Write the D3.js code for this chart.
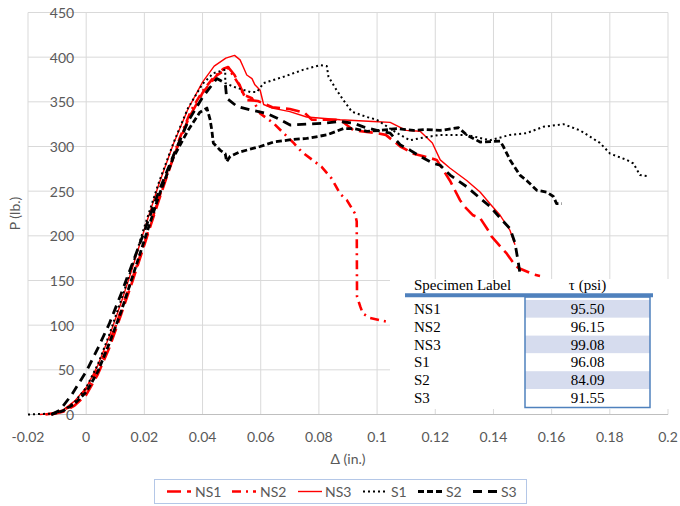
<!DOCTYPE html>
<html>
<head>
<meta charset="utf-8">
<script src="https://cdn.jsdelivr.net/npm/d3@7"></script>
<style>
body { margin: 0; background: #fff; }
text { font-family: Lato, "Open Sans", sans-serif; }
</style>
</head>
<body>
<svg id="chart" width="680" height="506"></svg>
<script>
// axis ticks
const xTicks = [-0.02, 0, 0.02, 0.04, 0.06, 0.08, 0.1, 0.12, 0.14, 0.16, 0.18, 0.2];
const yTicks = [0, 50, 100, 150, 200, 250, 300, 350, 400, 450];

// load-displacement curves, [delta (in.), P (lb.)]
const ns1 = [[-0.012,0],[-0.008,3],[-0.004,10],[0,22],[0.004,45],[0.008,75],[0.012,112],[0.016,150],[0.02,190],[0.025,240],[0.03,288],[0.035,330],[0.04,360],[0.045,380],[0.049,388],[0.051,380],[0.053,367],[0.055,352],[0.059,351],[0.064,344],[0.07,342],[0.075,338],[0.0776,330],[0.0873,330],[0.0919,318],[0.1,315],[0.103,313],[0.108,300],[0.1125,292],[0.116,289],[0.1205,285],[0.125,262],[0.1285,240],[0.1297,234],[0.133,223],[0.1354,220],[0.1388,203],[0.1394,199],[0.1429,186],[0.1446,180],[0.1474,167],[0.1486,164],[0.1537,157],[0.156,155]];
const ns2 = [[-0.014,0],[-0.01,2],[-0.006,8],[-0.002,20],[0.002,38],[0.006,65],[0.01,98],[0.014,135],[0.018,172],[0.022,212],[0.027,262],[0.032,308],[0.036,340],[0.04,362],[0.044,378],[0.0472,387],[0.0488,389],[0.05,382],[0.053,367],[0.054,358],[0.057,354],[0.0598,337],[0.0644,326],[0.0713,304],[0.0741,294],[0.081,277],[0.0844,264],[0.0873,247],[0.0896,240],[0.0924,225],[0.093,216],[0.0931,132],[0.0942,121],[0.0951,113],[0.0976,108],[0.1031,104]];
const ns3 = [[-0.016,0],[-0.012,1],[-0.008,5],[-0.004,15],[0,30],[0.004,55],[0.008,88],[0.012,125],[0.016,165],[0.02,207],[0.025,258],[0.03,303],[0.035,342],[0.04,372],[0.044,390],[0.048,399],[0.051,402],[0.0529,397],[0.054,389],[0.0552,380],[0.057,376],[0.058,369],[0.0598,363],[0.061,347],[0.064,343],[0.07,339],[0.0758,333],[0.0873,330],[0.0986,328],[0.1045,327],[0.11,318],[0.1148,317],[0.119,304],[0.1217,285],[0.125,276],[0.1308,262],[0.1354,249],[0.1388,236],[0.1423,223],[0.1457,206],[0.1474,190]];
const s1 = [[-0.02,0],[-0.012,1],[-0.008,4],[-0.004,14],[0,30],[0.004,56],[0.008,90],[0.012,128],[0.016,168],[0.02,210],[0.025,260],[0.03,304],[0.035,343],[0.04,370],[0.0437,382],[0.0478,386],[0.0478,371],[0.0506,367],[0.0564,361],[0.0587,361],[0.061,371],[0.0678,378],[0.0747,386],[0.0804,391],[0.0827,390],[0.0833,378],[0.0861,363],[0.0884,352],[0.0913,339],[0.0965,333],[0.0999,330],[0.1045,320],[0.1079,313],[0.1113,307],[0.1159,310],[0.1216,313],[0.1308,313],[0.1388,307],[0.1457,313],[0.1514,315],[0.1571,322],[0.164,325],[0.1698,318],[0.1732,311],[0.1766,304],[0.1801,292],[0.1858,285],[0.1881,281],[0.1904,268],[0.1927,267]];
const s2 = [[-0.012,0],[-0.008,4],[-0.004,12],[0,25],[0.004,48],[0.008,80],[0.012,115],[0.016,155],[0.02,195],[0.025,245],[0.03,288],[0.035,318],[0.039,338],[0.0415,343],[0.0426,330],[0.0432,318],[0.0437,304],[0.046,296],[0.0478,292],[0.0483,283],[0.0495,289],[0.0529,294],[0.0598,300],[0.0644,305],[0.0713,308],[0.0758,309],[0.0827,313],[0.0884,320],[0.0919,320],[0.0965,317],[0.101,318],[0.1068,320],[0.1125,318],[0.117,319],[0.1217,318],[0.128,321],[0.1308,313],[0.1354,305],[0.1423,306],[0.1434,300],[0.1457,285],[0.1491,268],[0.1514,262],[0.1549,251],[0.1583,249],[0.1606,244],[0.1617,236],[0.1635,236]];
const s3 = [[-0.012,0],[-0.009,5],[-0.005,22],[0,48],[0.004,74],[0.008,102],[0.012,135],[0.016,170],[0.02,205],[0.025,250],[0.03,290],[0.035,328],[0.04,355],[0.0449,376],[0.0478,371],[0.0483,354],[0.0518,345],[0.0564,341],[0.0621,337],[0.0655,332],[0.0701,324],[0.0758,325],[0.0815,326],[0.0873,328],[0.0919,326],[0.0953,322],[0.0999,318],[0.1045,315],[0.1079,302],[0.1113,296],[0.1148,289],[0.1194,281],[0.1217,279],[0.1251,268],[0.1308,255],[0.1354,242],[0.1388,233],[0.1423,220],[0.1457,208],[0.1474,192],[0.1486,169],[0.1491,158]];

const seriesNames = ["NS1", "NS2", "NS3", "S1", "S2", "S3"];
const seriesData = [ns1, ns2, ns3, s1, s2, s3];

// table values
const specimens = ["NS1", "NS2", "NS3", "S1", "S2", "S3"];
const tau = ["95.50", "96.15", "99.08", "96.08", "84.09", "91.55"];

const styles = {
  NS1: {color: "#ff0000", width: 2.6, dash: "14,6"},
  NS2: {color: "#ff0000", width: 2.6, dash: "9,5,2,5"},
  NS3: {color: "#ff0000", width: 1.4, dash: null},
  S1:  {color: "#000000", width: 2, dash: "2,3"},
  S2:  {color: "#000000", width: 2.8, dash: "6,3"},
  S3:  {color: "#000000", width: 2.8, dash: "9,6"}
};

const svg = d3.select("#chart");
const x = d3.scaleLinear().domain([-0.02, 0.2]).range([28, 668]);
const y = d3.scaleLinear().domain([0, 450]).range([414.5, 12.5]);

// gridlines
svg.append("g").selectAll("line").data(xTicks).enter().append("line")
  .attr("x1", d => x(d)).attr("x2", d => x(d))
  .attr("y1", y(0)).attr("y2", y(450))
  .attr("stroke", "#d9d9d9").attr("stroke-width", 1);
svg.append("g").selectAll("line").data(yTicks).enter().append("line")
  .attr("x1", x(-0.02)).attr("x2", x(0.2))
  .attr("y1", d => y(d)).attr("y2", d => y(d))
  .attr("stroke", d => d === 0 ? "#bfbfbf" : "#d9d9d9").attr("stroke-width", 1);

// tick labels
svg.append("g").selectAll("text").data(xTicks).enter().append("text")
  .attr("x", d => x(d)).attr("y", 436)
  .attr("text-anchor", "middle").attr("dominant-baseline", "central")
  .attr("font-size", 14).attr("fill", "#595959")
  .text(d => String(d));
svg.append("g").selectAll("text").data(yTicks).enter().append("text")
  .attr("x", x(0) - 12).attr("y", d => y(d))
  .attr("text-anchor", "end").attr("dominant-baseline", "central")
  .attr("font-size", 14).attr("fill", "#595959")
  .text(d => d);

// axis titles
svg.append("text").attr("x", 348).attr("y", 458)
  .attr("text-anchor", "middle").attr("dominant-baseline", "central")
  .attr("font-size", 14).attr("fill", "#595959").text("Δ (in.)");
svg.append("text").attr("transform", "translate(14," + y(225) + ") rotate(-90)")
  .attr("text-anchor", "middle").attr("dominant-baseline", "central")
  .attr("font-size", 14).attr("fill", "#595959").text("P (lb.)");

// curves
const line = d3.line().x(d => x(d[0])).y(d => y(d[1]));
svg.append("g").selectAll("path").data(seriesData).enter().append("path")
  .attr("d", line)
  .attr("fill", "none")
  .attr("stroke", (d, i) => styles[seriesNames[i]].color)
  .attr("stroke-width", (d, i) => styles[seriesNames[i]].width)
  .attr("stroke-dasharray", (d, i) => styles[seriesNames[i]].dash)
  .attr("stroke-linejoin", "round");

// table overlay
const table = svg.append("g");
table.append("rect").attr("x", 390).attr("y", 279).attr("width", 282).attr("height", 130).attr("fill", "#fff");
const rowH = 17.8, row0 = 308.9;
table.selectAll(".band").data(tau).enter().append("rect")
  .attr("x", 525).attr("width", 125)
  .attr("y", (d, i) => row0 + i * rowH - rowH / 2).attr("height", rowH)
  .attr("fill", (d, i) => i % 2 === 0 ? "#d6dcee" : "#ffffff");
table.append("rect").attr("x", 525).attr("y", 297).attr("width", 125).attr("height", 110.5)
  .attr("fill", "none").attr("stroke", "#4f81bd").attr("stroke-width", 1.5);
table.append("line").attr("x1", 405).attr("x2", 653).attr("y1", 295.3).attr("y2", 295.3)
  .attr("stroke", "#4f81bd").attr("stroke-width", 4);
table.append("text").attr("x", 414).attr("y", 285).attr("dominant-baseline", "central")
  .style("font-family", "'Liberation Serif', serif").attr("font-size", 15).text("Specimen Label");
table.append("text").attr("x", 587.5).attr("y", 285).attr("text-anchor", "middle").attr("dominant-baseline", "central")
  .style("font-family", "'Liberation Serif', serif").attr("font-size", 15).text("τ (psi)");
table.selectAll(".lab").data(specimens).enter().append("text")
  .attr("x", 414).attr("y", (d, i) => row0 + i * rowH).attr("dominant-baseline", "central")
  .style("font-family", "'Liberation Serif', serif").attr("font-size", 15).text(d => d);
table.selectAll(".val").data(tau).enter().append("text")
  .attr("x", 587.5).attr("y", (d, i) => row0 + i * rowH).attr("text-anchor", "middle").attr("dominant-baseline", "central")
  .style("font-family", "'Liberation Serif', serif").attr("font-size", 15).text(d => d);

// legend
const legend = svg.append("g");
legend.append("rect").attr("x", 154.5).attr("y", 479.5).attr("width", 372).attr("height", 24)
  .attr("fill", "#fff").attr("stroke", "#b4c7e7").attr("stroke-width", 1);
const legX = [167, 232, 298, 363, 418, 473];
const legItems = legend.selectAll(".item").data(seriesNames).enter().append("g")
  .attr("transform", (d, i) => "translate(" + legX[i] + ",491.5)");
legItems.append("line").attr("x1", 0).attr("x2", 24).attr("y1", 0).attr("y2", 0)
  .attr("stroke", d => styles[d].color)
  .attr("stroke-width", d => styles[d].width)
  .attr("stroke-dasharray", d => styles[d].dash);
legItems.append("text").attr("x", d => d === "NS3" ? 27 : 28).attr("y", 0)
  .attr("dominant-baseline", "central").attr("font-size", 14).attr("fill", "#595959")
  .text(d => d);
</script>
</body>
</html>
